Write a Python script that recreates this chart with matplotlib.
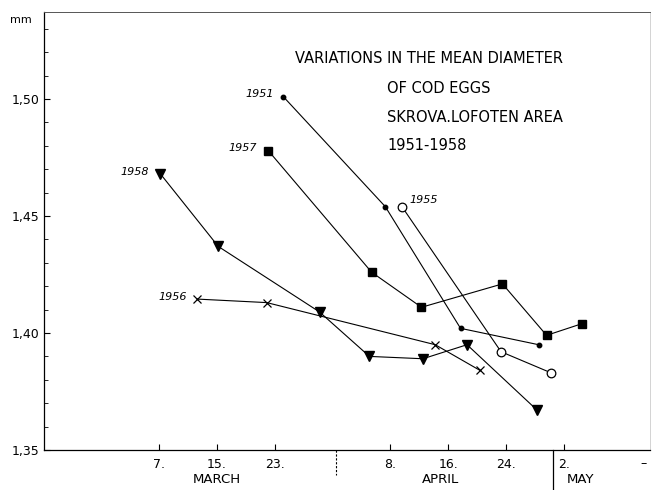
import numpy as np
import matplotlib.pyplot as plt
import matplotlib.transforms as mtransforms

# days counted from 1 March (April 8 = 39, May 2 = 63)
day_1951 = [24.2, 38.3, 48.7, 59.5]
val_1951 = [1.501, 1.454, 1.402, 1.395]

day_1955 = [40.6, 54.3, 61.2]
val_1955 = [1.454, 1.392, 1.383]

day_1957 = [22.1, 36.4, 43.3, 54.5, 60.6, 65.5]
val_1957 = [1.478, 1.426, 1.411, 1.421, 1.399, 1.404]

day_1958 = [7.2, 15.2, 29.2, 36.1, 43.5, 49.6, 59.3]
val_1958 = [1.468, 1.437, 1.409, 1.390, 1.389, 1.395, 1.367]

day_1956 = [12.3, 21.9, 45.2, 51.4]
val_1956 = [1.4145, 1.413, 1.395, 1.384]

tick_days = [7, 15, 23, 39, 47, 55, 63]
tick_labels = ['7.', '15.', '23.', '8.', '16.', '24.', '2.']
months = ['MARCH', 'APRIL', 'MAY']
month_x = [15.0, 46.0, 65.3]
month_breaks = [31.5, 61.5]

fig = plt.figure(figsize=(6.52, 4.90), dpi=100)
ax = fig.add_axes([44/652, 40/490, 606/652, 438/490])

lw = 0.8
ax.plot(day_1951, val_1951, '-', color='black', lw=lw, marker='o', ms=3.2)
ax.plot(day_1955, val_1955, '-', color='black', lw=lw, marker='o', ms=6.2,
        mfc='white', mec='black', mew=0.9)
ax.plot(day_1957, val_1957, '-', color='black', lw=lw, marker='s', ms=5.3)
ax.plot(day_1958, val_1958, '-', color='black', lw=lw, marker='v', ms=6.5)
ax.plot(day_1956, val_1956, '-', color='black', lw=lw, marker='x', ms=5.5, mew=0.9)

# year labels next to the first point of each series
yfont = dict(fontsize=8, style='italic', ha='right', va='center')
ax.text(day_1951[0] - 1.3, val_1951[0] + 0.001, '1951', **yfont)
ax.text(day_1957[0] - 1.6, val_1957[0] + 0.001, '1957', **yfont)
ax.text(day_1958[0] - 1.6, val_1958[0] + 0.001, '1958', **yfont)
ax.text(day_1956[0] - 1.4, val_1956[0] + 0.001, '1956', **yfont)
ax.text(day_1955[0] + 1.0, val_1955[0] + 0.003, '1955', fontsize=8, style='italic',
        ha='left', va='center')

# title block
tfont = dict(fontsize=10.5, ha='left', va='center', transform=ax.transAxes)
ax.text((295-44)/606, (450-58)/438, 'VARIATIONS IN THE MEAN DIAMETER', **tfont)
ax.text((387-44)/606, (450-88)/438, 'OF COD EGGS', **tfont)
ax.text((387-44)/606, (450-117)/438, 'SKROVA.LOFOTEN AREA', **tfont)
ax.text((387-44)/606, (450-145)/438, '1951-1958', **tfont)

ax.set_xlim(-8.9, 74.9)
ax.set_ylim(1.35, 1.5372)

ax.set_yticks([1.35, 1.40, 1.45, 1.50])
ax.set_yticklabels(['1,35', '1,40', '1,45', '1,50'])
ax.set_yticks(np.arange(1.36, 1.535, 0.01), minor=True)
ax.tick_params(axis='y', which='major', direction='in', length=4, pad=3, labelsize=9)
ax.tick_params(axis='y', which='minor', direction='in', length=3)

ax.set_xticks(tick_days)
ax.set_xticklabels(tick_labels)
ax.tick_params(axis='x', direction='in', length=4, pad=6, labelsize=9)

for s in ['left', 'bottom']:
    ax.spines[s].set_linewidth(0.9)
ax.spines['top'].set_color('#555555')
ax.spines['top'].set_linewidth(0.7)
ax.spines['right'].set_color('#cccccc')
ax.spines['right'].set_linewidth(0.6)

trans = mtransforms.blended_transform_factory(ax.transData, ax.transAxes)
ax.plot([month_breaks[0]] * 2, [0, -0.057], color='black', lw=0.8, ls=(0, (2, 1.5)),
        transform=trans, clip_on=False)
ax.plot([month_breaks[1]] * 2, [0, -0.091], color='black', lw=0.9,
        transform=trans, clip_on=False)
for name, mx in zip(months, month_x):
    ax.text(mx, -0.068, name, fontsize=9.5, ha='center', va='center', transform=trans)
ax.text(74.0, -0.032, '–', fontsize=9, ha='center', va='center', transform=trans)

fig.text(10/652, 1 - 20/490, 'mm', fontsize=8, ha='left', va='center')

plt.savefig('out.png', dpi=100)
